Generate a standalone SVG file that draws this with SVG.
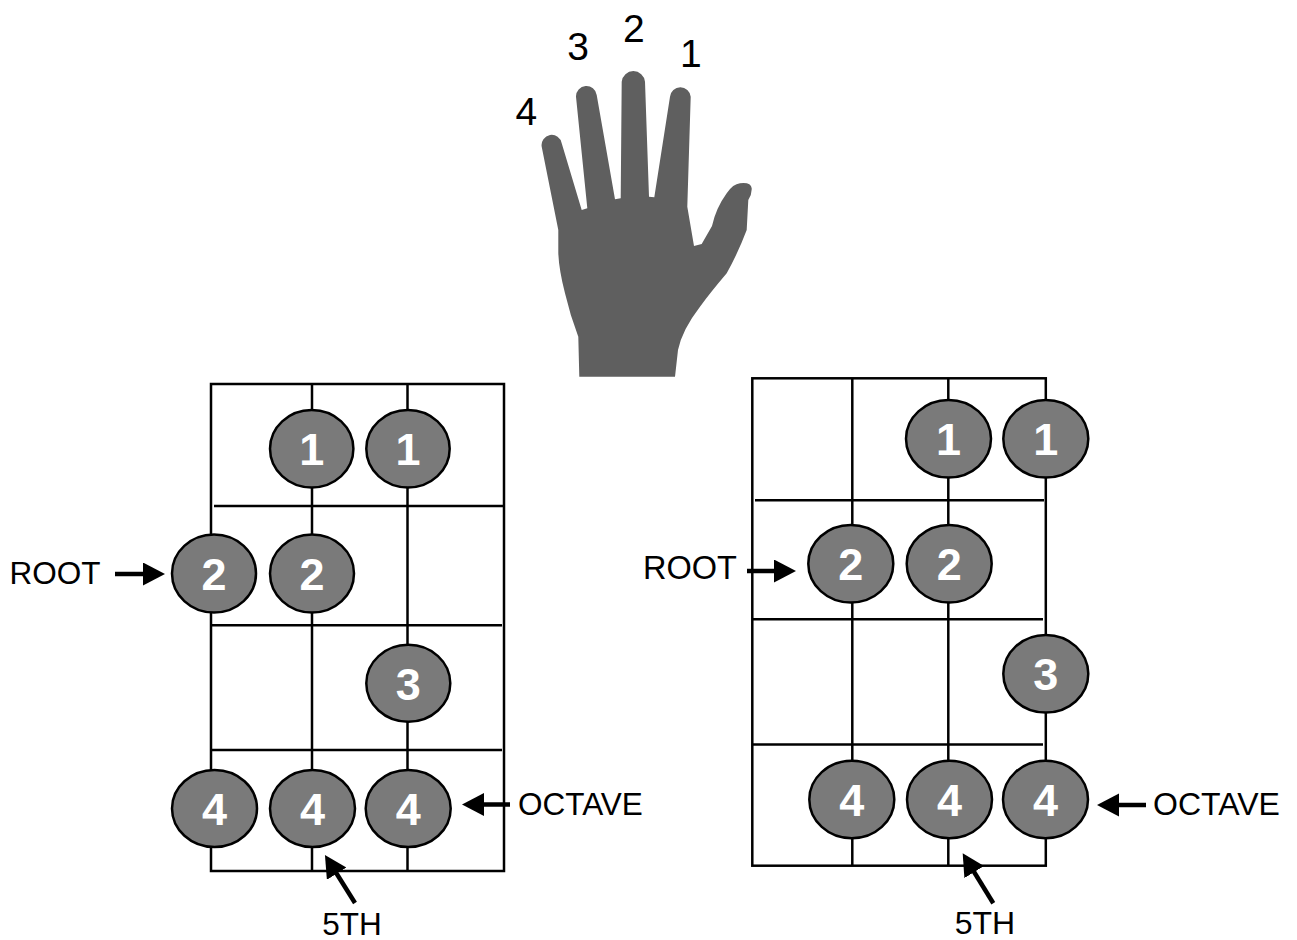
<svg xmlns="http://www.w3.org/2000/svg" width="1297" height="940" viewBox="0 0 1297 940">
<style>
.grid{fill:none;stroke:#000;stroke-width:2.5}
.dot ellipse{fill:#7a7a7a;stroke:#000;stroke-width:2.5}
.dot text{fill:#fff;font-family:"Liberation Sans",Arial,sans-serif;font-weight:bold;font-size:45px;text-anchor:middle}
.lbl{fill:#000;font-family:"Liberation Sans",Arial,sans-serif}
.arr{stroke:#000;stroke-width:4.5;fill:none;marker-end:url(#ah)}
</style>
<defs>
<marker id="ah" markerUnits="userSpaceOnUse" markerWidth="24" markerHeight="24" refX="4" refY="11.5" orient="auto" viewBox="0 0 24 24">
<path d="M0,0 L22,11.5 L0,23 z" fill="#000"/>
</marker>
</defs>
<rect width="1297" height="940" fill="#fff"/>

<g id="hand">
<path fill="#5f5f5f" d="M558.3,230 L541.7,146.7 A10,10 0 0 1 561.7,143.3 L581.7,210 L587.3,208.3 L576,96.7 A10.4,10.4 0 0 1 596.7,95 L615,199.3 L620.7,198.3 L621.7,81.7 A11.7,11.7 0 0 1 645,81.7 L649,196.7 L654.3,197.3 L670,96.7 A10.4,10.4 0 0 1 690.7,96.7 L687.3,206.7 L694,246 L701.7,244 L712,226 Q716,208 726.7,193.3 Q733,184 740,183.3 Q751,182 751.7,188.3 Q752,194 748.3,200 L746.7,230 Q738,253 726.7,273.3 Q710,293 700,306.7 Q682,330 678,350 L675,376.7 L579.3,376.7 L578.3,336.7 Q570,315 565,293.3 Q559,270 558.3,253.3 Z"/>
<text class="lbl" x="526.3" y="125" font-size="39" text-anchor="middle">4</text>
<text class="lbl" x="578" y="60" font-size="39" text-anchor="middle">3</text>
<text class="lbl" x="633.8" y="41.5" font-size="39" text-anchor="middle">2</text>
<text class="lbl" x="680" y="66.5" font-size="39">1</text>
</g>

<g id="left-board">
<rect class="grid" x="211" y="384" width="293" height="487"/>
<line class="grid" x1="312" y1="384" x2="312" y2="871"/>
<line class="grid" x1="407.5" y1="384" x2="407.5" y2="871"/>
<line class="grid" x1="214" y1="506" x2="504" y2="506"/>
<line class="grid" x1="211" y1="625.3" x2="502" y2="625.3"/>
<line class="grid" x1="211" y1="750" x2="502" y2="750"/>
</g>
<g id="left-dots" class="dot">
<g id="l-1a"><ellipse cx="311.7" cy="448.7" rx="41.7" ry="38.7"/><text x="311.7" y="465">1</text></g>
<g id="l-1b"><ellipse cx="408" cy="448.7" rx="41.7" ry="38.7"/><text x="408" y="465">1</text></g>
<g id="l-2a"><ellipse cx="214" cy="573.5" rx="42" ry="39"/><text x="214" y="589.8">2</text></g>
<g id="l-2b"><ellipse cx="312" cy="573.5" rx="42" ry="39"/><text x="312" y="589.8">2</text></g>
<g id="l-3"><ellipse cx="408.3" cy="683.3" rx="42" ry="38.5"/><text x="408.3" y="699.6">3</text></g>
<g id="l-4a"><ellipse cx="214.5" cy="808.5" rx="42.5" ry="38.5"/><text x="214.5" y="824.8">4</text></g>
<g id="l-4b"><ellipse cx="312.5" cy="808.5" rx="42.5" ry="38.5"/><text x="312.5" y="824.8">4</text></g>
<g id="l-4c"><ellipse cx="408.2" cy="808.5" rx="42.5" ry="38.5"/><text x="408.2" y="824.8">4</text></g>
</g>

<g id="right-board">
<rect class="grid" x="752.3" y="378.3" width="293.5" height="487.4"/>
<line class="grid" x1="852.3" y1="378.3" x2="852.3" y2="865.7"/>
<line class="grid" x1="948.3" y1="378.3" x2="948.3" y2="865.7"/>
<line class="grid" x1="755" y1="500.3" x2="1044" y2="500.3"/>
<line class="grid" x1="753" y1="619.3" x2="1043" y2="619.3"/>
<line class="grid" x1="752.3" y1="744.4" x2="1043" y2="744.4"/>
</g>
<g id="right-dots" class="dot">
<g id="r-1a"><ellipse cx="948.5" cy="438.8" rx="42.5" ry="38.8"/><text x="948.5" y="455.1">1</text></g>
<g id="r-1b"><ellipse cx="1045.8" cy="438.8" rx="42.5" ry="38.8"/><text x="1045.8" y="455.1">1</text></g>
<g id="r-2a"><ellipse cx="850.8" cy="563.7" rx="42.5" ry="38.8"/><text x="850.8" y="580">2</text></g>
<g id="r-2b"><ellipse cx="949.2" cy="563.7" rx="42.5" ry="38.8"/><text x="949.2" y="580">2</text></g>
<g id="r-3"><ellipse cx="1045.8" cy="673.8" rx="42.5" ry="38.8"/><text x="1045.8" y="690.1">3</text></g>
<g id="r-4a"><ellipse cx="851.8" cy="799.5" rx="42.5" ry="38.8"/><text x="851.8" y="815.8">4</text></g>
<g id="r-4b"><ellipse cx="949.5" cy="799.5" rx="42.5" ry="38.8"/><text x="949.5" y="815.8">4</text></g>
<g id="r-4c"><ellipse cx="1045.5" cy="799.5" rx="42.5" ry="38.8"/><text x="1045.5" y="815.8">4</text></g>
</g>

<g id="connectors">
<line class="arr" x1="115" y1="574" x2="147" y2="574"/>
<line class="arr" x1="510" y1="804.5" x2="480" y2="804.5"/>
<line class="arr" x1="355" y1="903" x2="334.5" y2="870.3"/>
<line class="arr" x1="747" y1="571" x2="778" y2="571"/>
<line class="arr" x1="1146" y1="805" x2="1115" y2="805"/>
<line class="arr" x1="993.3" y1="903.3" x2="972.1" y2="868.7"/>
</g>

<g id="labels">
<text class="lbl" x="9.5" y="584" font-size="31.5">ROOT</text>
<text class="lbl" x="518" y="815" font-size="31.5">OCTAVE</text>
<text class="lbl" x="352" y="934.5" font-size="31.5" text-anchor="middle">5TH</text>
<text class="lbl" x="643" y="578.5" font-size="32.5">ROOT</text>
<text class="lbl" x="1153" y="815" font-size="32">OCTAVE</text>
<text class="lbl" x="985" y="934" font-size="32" text-anchor="middle">5TH</text>
</g>
</svg>
